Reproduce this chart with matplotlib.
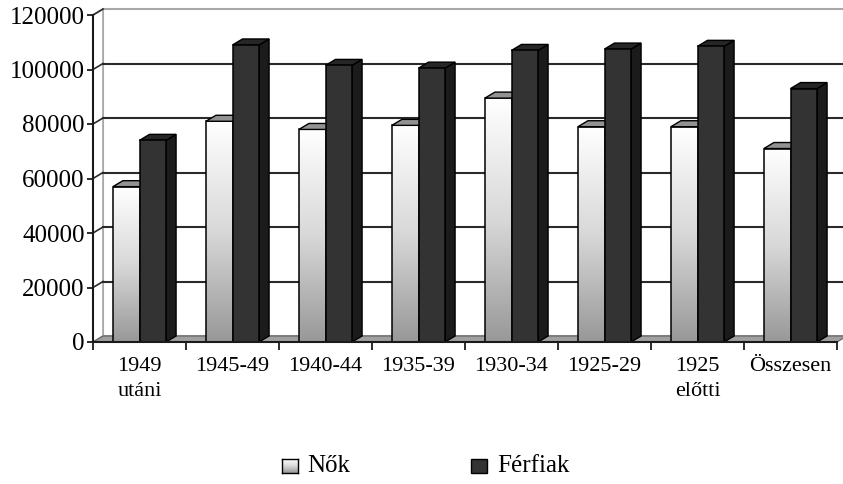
import numpy as np
import matplotlib
matplotlib.use("Agg")
import matplotlib.pyplot as plt
from matplotlib.patches import Polygon, Rectangle
from matplotlib.colors import LinearSegmentedColormap

plt.rcParams['font.family'] = ['Liberation Serif', 'DejaVu Serif']

categories = ['1949\nutáni', '1945-49', '1940-44', '1935-39', '1930-34',
              '1925-29', '1925\nelőtti', 'Összesen']
nok = [57000, 81000, 78000, 79500, 89500, 79000, 79000, 71000]
ferfiak = [74000, 109000, 101500, 100500, 107000, 107500, 108500, 93000]
yticks = [0, 20000, 40000, 60000, 80000, 100000, 120000]
series_names = ['Nők', 'Férfiak']

W, H = 843, 484
fig = plt.figure(figsize=(W / 100, H / 100), dpi=100)
ax = fig.add_axes([93 / W, (H - 342) / H, 744 / W, 327 / H])
n = len(categories)
ax.set_xlim(0, n)
ax.set_ylim(0, 120000)

# depth offset in pixels -> data units
p0, p1 = ax.transData.transform([(0, 0), (1, 10000)])
DX = 10 / (p1[0] - p0[0])
DY = 6 / ((p1[1] - p0[1]) / 10000)

ymax = yticks[-1]
# back wall
ax.add_patch(Polygon([(DX, DY), (n + DX, DY), (n + DX, ymax + DY), (DX, ymax + DY)],
                     closed=True, facecolor='white', edgecolor='#a8a8a8', lw=1.5,
                     clip_on=False, zorder=1))
# left wall
ax.add_patch(Polygon([(0, 0), (0, ymax), (DX, ymax + DY), (DX, DY)],
                     closed=True, facecolor='white', edgecolor='#a8a8a8', lw=1.2,
                     clip_on=False, zorder=1))
# gridlines
for v in yticks[1:-1]:
    ax.plot([DX, n + DX], [v + DY, v + DY], color='#2a2a2a', lw=1.5, clip_on=False, zorder=2)
    ax.plot([0, DX], [v, v + DY], color='#2a2a2a', lw=1.2, clip_on=False, zorder=2)
ax.plot([0, DX], [ymax, ymax + DY], color='#2a2a2a', lw=1.2, clip_on=False, zorder=2)
# floor
ax.add_patch(Polygon([(0, 0), (n, 0), (n + DX, DY), (DX, DY)], closed=True,
                     facecolor='#a0a0a0', edgecolor='#606060', lw=0.8,
                     clip_on=False, zorder=3))

grad_cmap = LinearSegmentedColormap.from_list('g', ['#989898', '#d8d8d8', '#ffffff'])
top_cmap = LinearSegmentedColormap.from_list('t', ['#7a7a7a', '#b0b0b0'])
gap = 1.5
bw = 1.0 / (2 + gap)
z = 4
for i in range(n):
    x0 = i + gap / 2 * bw
    # Nők bar
    h = nok[i]
    ax.imshow(np.linspace(0, 1, 256).reshape(-1, 1)[::-1], extent=(x0, x0 + bw, 0, h),
              cmap=grad_cmap, aspect='auto', zorder=z, interpolation='bilinear')
    ax.add_patch(Rectangle((x0, 0), bw, h, facecolor='none', edgecolor='black', lw=1.1, zorder=z + 0.1))
    ax.add_patch(Polygon([(x0, h), (x0 + bw, h), (x0 + bw + DX, h + DY), (x0 + DX, h + DY)],
                         closed=True, facecolor='#929292', edgecolor='black', lw=1.0,
                         clip_on=False, zorder=z + 0.1))
    # Férfiak bar
    x1 = x0 + bw
    h = ferfiak[i]
    ax.add_patch(Polygon([(x1 + bw, 0), (x1 + bw + DX, DY), (x1 + bw + DX, h + DY), (x1 + bw, h)],
                         closed=True, facecolor='#1b1b1b', edgecolor='black', lw=1.0,
                         clip_on=False, zorder=z + 0.2))
    ax.add_patch(Polygon([(x1, h), (x1 + bw, h), (x1 + bw + DX, h + DY), (x1 + DX, h + DY)],
                         closed=True, facecolor='#262626', edgecolor='black', lw=1.0,
                         clip_on=False, zorder=z + 0.2))
    ax.add_patch(Rectangle((x1, 0), bw, h, facecolor='#333333', edgecolor='black', lw=1.1,
                           zorder=z + 0.3))
    z += 1

ax.set_xlim(0, n)
ax.set_ylim(0, 120000)

for s in ['top', 'right']:
    ax.spines[s].set_visible(False)
ax.spines['left'].set_color('#1a1a1a')
ax.spines['left'].set_linewidth(1.5)
ax.spines['bottom'].set_color('#1a1a1a')
ax.spines['bottom'].set_linewidth(1.5)
ax.spines['left'].set_zorder(50)
ax.spines['bottom'].set_zorder(50)

ax.set_yticks(yticks)
ax.set_yticklabels([str(v) for v in yticks], fontsize=18)
ax.tick_params(axis='y', length=4, width=1.3, pad=2, color='#1a1a1a')
ax.set_xticks(range(n + 1))
ax.set_xticklabels([])
ax.tick_params(axis='x', which='major', length=6, width=1.3, color='#1a1a1a')
ax.set_xticks(np.arange(n) + 0.5, minor=True)
ax.set_xticklabels(categories, minor=True, fontsize=16, linespacing=1.4)
ax.tick_params(axis='x', which='minor', length=0, pad=11)

# legend
def fx(px):
    return px / W
def fy(py):
    return (H - py) / H

lax = fig.add_axes([fx(282), fy(473), 16 / W, 14 / H])
lax.imshow(np.linspace(0, 1, 64).reshape(-1, 1)[::-1], cmap=grad_cmap, aspect='auto',
           extent=(0, 1, 0, 1))
lax.set_xticks([]); lax.set_yticks([])
for s in lax.spines.values():
    s.set_linewidth(1.0)
fig.patches.append(Rectangle((fx(471), fy(473)), 16 / W, 14 / H, transform=fig.transFigure,
                             facecolor='#333333', edgecolor='black', lw=1.0))
fig.text(fx(307), fy(466), series_names[0], fontsize=18, va='center', ha='left')
fig.text(fx(497), fy(466), series_names[1], fontsize=18, va='center', ha='left')

fig.savefig('out.png', dpi=100)
